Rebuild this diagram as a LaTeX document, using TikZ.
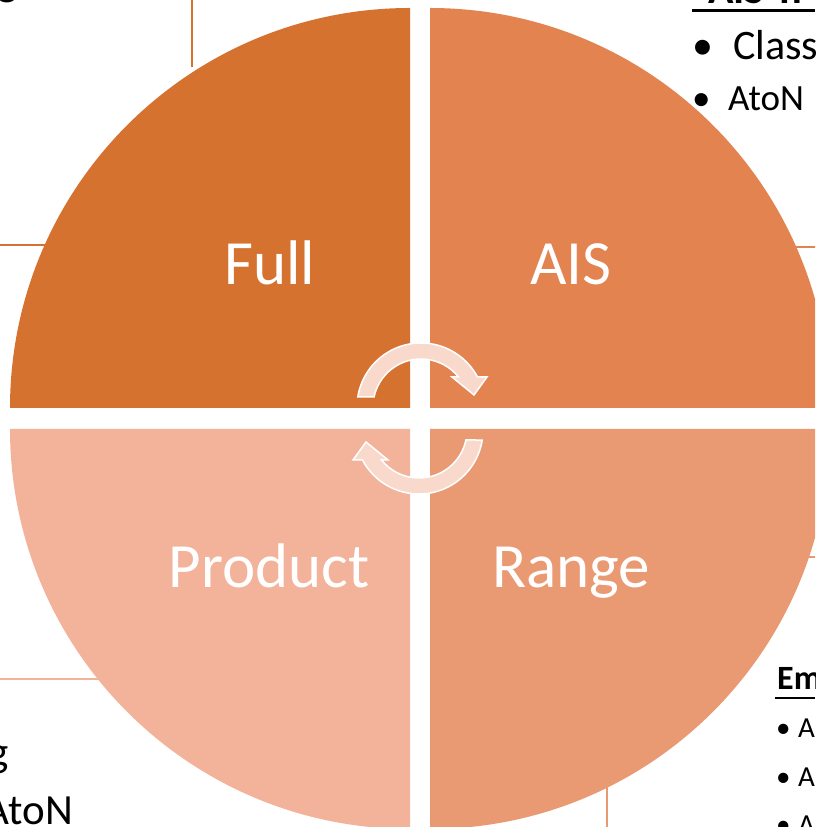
\documentclass[tikz,border=0pt]{standalone}
\usepackage{fontspec}
\setmainfont{Carlito}
\definecolor{fullc}{HTML}{D6722F}
\definecolor{aisc}{HTML}{E28350}
\definecolor{rangec}{HTML}{EA9A73}
\definecolor{prodc}{HTML}{F2B39A}
\definecolor{arrowfill}{HTML}{F9D9CB}
\begin{document}
\begin{tikzpicture}[x=1pt,y=1pt,
  lbl/.style={text=white,inner sep=0pt,anchor=base,font=\fontsize{63}{70}\selectfont},
  body/.style={text=black,inner sep=0pt},
  cyc/.style={fill=arrowfill,draw=white,line width=1.5pt,line join=miter},
  link/.style={line width=2pt},
  uline/.style={line width=2.5pt}]
\useasboundingbox (0,0) rectangle (815,827);
\clip (0,0) rectangle (815,827);

% connectors from the circle towards the side texts
\coordinate (e1) at (192,760);  \coordinate (t1) at (192,830);
\coordinate (e2) at (47,582);   \coordinate (t2) at (-5,582);
\coordinate (e3) at (795,580);  \coordinate (t3) at (820,580);
\coordinate (e4) at (807,270);  \coordinate (t4) at (820,270);
\coordinate (e5) at (607,40);   \coordinate (t5) at (607,-5);
\coordinate (e6) at (100,148);  \coordinate (t6) at (-5,148);
\draw[link,fullc]  (e1) -- (t1);
\draw[link,fullc]  (e2) -- (t2);
\draw[link,aisc]   (e3) -- (t3);
\draw[link,rangec] (e4) -- (t4);
\draw[link,rangec] (e5) -- (t5);
\draw[link,prodc]  (e6) -- (t6);

% the four quarters of the circle
\fill[fullc]  (410,419) -- (10,419) arc[start angle=180,end angle=90,radius=400pt] -- cycle;
\fill[aisc]   (430,419) -- (430,819) arc[start angle=90,end angle=0,radius=400pt] -- cycle;
\fill[prodc]  (410,398) -- (10,398) arc[start angle=180,end angle=270,radius=400pt] -- cycle;
\fill[rangec] (430,398) -- (830,398) arc[start angle=0,end angle=-90,radius=400pt] -- cycle;

% quarter labels
\node[lbl] (full)  at (270,542) {Full};
\node[lbl] (ais)   at (571,542) {AIS};
\node[lbl] (prod)  at (269,239) {Product};
\node[lbl] (range) at (571,239) {Range};

% circular arrows in the middle
\begin{scope}[shift={(421,420)}]
  \path[cyc] (171:64pt) arc[start angle=171,end angle=27.95,radius=64pt]
    -- (66pt,30pt) -- (53pt,12pt) -- (31pt,30pt)
    -- (38.68:48pt) arc[start angle=38.68,end angle=167.98,radius=48pt] -- cycle;
\end{scope}
\begin{scope}[shift={(419,397)},rotate=180]
  \path[cyc] (171:64pt) arc[start angle=171,end angle=27.95,radius=64pt]
    -- (66pt,30pt) -- (53pt,12pt) -- (31pt,30pt)
    -- (38.68:48pt) arc[start angle=38.68,end angle=167.98,radius=48pt] -- cycle;
\end{scope}

% text block, top right
\node[body,anchor=base west,font=\bfseries\fontsize{42}{50}\selectfont] (aishead) at (708,823) {AIS Tr};
\draw[uline] (692,816.5) -- (815,816.5);
\node[body,anchor=base west,font=\fontsize{42}{50}\selectfont] (b1) at (692,767) {•};
\node[body,anchor=base west,font=\fontsize{42}{50}\selectfont] (class) at (733,767) {Class};
\node[body,anchor=base west,font=\fontsize{37}{44}\selectfont] (b2) at (692,716) {•};
\node[body,anchor=base west,font=\fontsize{37}{44}\selectfont] (aton1) at (728,716) {AtoN};

% text block, left
\node[body,anchor=base west,font=\fontsize{43}{50}\selectfont] (gtop) at (-3,831) {g};
\node[body,anchor=base east,font=\fontsize{43}{50}\selectfont] (gtail) at (9,60) {g};
\node[body,anchor=base east,font=\fontsize{43}{50}\selectfont] (aton2) at (73,2) {AtoN};

% text block, bottom right
\node[body,anchor=base west,font=\bfseries\fontsize{34}{40}\selectfont] (emhead) at (777,137) {Em};
\draw[uline] (775,129) -- (815,129);
\foreach \yy/\nm in {89/a, 40/b, -7/c}{
  \node[body,anchor=base west,font=\fontsize{29}{34}\selectfont] (eb\nm) at (776,\yy) {•};
  \node[body,anchor=base west,font=\fontsize{29}{34}\selectfont] (ea\nm) at (798,\yy) {A};
}
\end{tikzpicture}
\end{document}
